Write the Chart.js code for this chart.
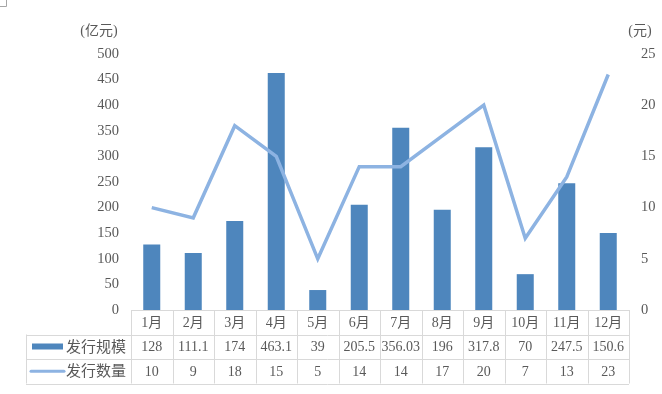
<!DOCTYPE html>
<html>
<head>
<meta charset="utf-8">
<script src="https://cdn.jsdelivr.net/npm/chart.js@4"></script>
<style>
  html, body { margin: 0; padding: 0; background: #fff; }
  #wrap { width: 662px; height: 394px; position: relative; }
</style>
</head>
<body>
<div id="wrap"><canvas id="myChart" width="662" height="394"></canvas></div>
<script>
// data
const months = ['1月', '2月', '3月', '4月', '5月', '6月', '7月', '8月', '9月', '10月', '11月', '12月'];
const scaleValues = [128, 111.1, 174, 463.1, 39, 205.5, 356.03, 196, 317.8, 70, 247.5, 150.6];
const scaleLabels = ['128', '111.1', '174', '463.1', '39', '205.5', '356.03', '196', '317.8', '70', '247.5', '150.6'];
const countValues = [10, 9, 18, 15, 5, 14, 14, 17, 20, 7, 13, 23];
const seriesNames = ['发行规模', '发行数量'];
const leftUnit = '(亿元)';
const rightUnit = '(元)';

const barColor = '#4E86BD';
const lineColor = '#8DB3E2';
const textColor = '#595959';
const gridColor = '#D9D9D9';
const fontFamily = '"Liberation Serif", "Noto Sans CJK SC", serif';

// draws the data table under the plot plus the unit labels
const tablePlugin = {
  id: 'dataTable',
  afterDraw(chart) {
    const ctx = chart.ctx;
    const area = chart.chartArea;
    const x = chart.scales.x;
    const n = months.length;
    const colW = (area.right - area.left) / n;
    const rowH = 24.5;
    const y0 = area.bottom;
    const y1 = y0 + rowH;
    const y2 = y1 + rowH;
    const y3 = y2 + rowH;
    const legendLeft = 26;

    ctx.save();
    ctx.strokeStyle = gridColor;
    ctx.lineWidth = 1;
    ctx.beginPath();
    // horizontal lines
    ctx.moveTo(area.left, Math.round(y0) + 0.5); ctx.lineTo(area.right, Math.round(y0) + 0.5);
    [y1, y2, y3].forEach(y => {
      ctx.moveTo(legendLeft, Math.round(y) + 0.5); ctx.lineTo(area.right, Math.round(y) + 0.5);
    });
    // vertical lines
    for (let i = 0; i <= n; i++) {
      const xx = Math.round(area.left + i * colW) + 0.5;
      ctx.moveTo(xx, y0); ctx.lineTo(xx, y3);
    }
    ctx.moveTo(legendLeft + 0.5, y1); ctx.lineTo(legendLeft + 0.5, y3);
    ctx.stroke();

    ctx.fillStyle = textColor;
    ctx.font = '14px ' + fontFamily;
    ctx.textAlign = 'center';
    ctx.textBaseline = 'middle';
    for (let i = 0; i < n; i++) {
      const cx = x.getPixelForValue(i);
      ctx.fillText(months[i], cx, y0 + rowH / 2 + 1);
      ctx.fillText(scaleLabels[i], cx, y1 + rowH / 2 + 1);
      ctx.fillText(String(countValues[i]), cx, y2 + rowH / 2 + 1);
    }

    // legend keys
    ctx.fillStyle = barColor;
    ctx.fillRect(32, y1 + 9, 31, 6);
    ctx.strokeStyle = lineColor;
    ctx.lineWidth = 3;
    ctx.lineCap = 'round';
    ctx.beginPath();
    ctx.moveTo(31, y2 + rowH / 2); ctx.lineTo(64, y2 + rowH / 2);
    ctx.stroke();

    ctx.fillStyle = textColor;
    ctx.font = '15px ' + fontFamily;
    ctx.textAlign = 'left';
    ctx.fillText(seriesNames[0], 66, y1 + rowH / 2 + 1);
    ctx.fillText(seriesNames[1], 66, y2 + rowH / 2 + 1);

    // axis units
    ctx.font = '14px ' + fontFamily;
    ctx.textAlign = 'center';
    ctx.fillText(leftUnit, 99, 31);
    ctx.fillText(rightUnit, 640, 31);

    // little corner mark in the top left
    ctx.strokeStyle = '#A6A6A6';
    ctx.lineWidth = 1;
    ctx.lineCap = 'butt';
    ctx.beginPath();
    ctx.moveTo(0, 6.5); ctx.lineTo(6.5, 6.5); ctx.lineTo(6.5, 0);
    ctx.stroke();
    ctx.restore();
  }
};

const ctx = document.getElementById('myChart').getContext('2d');
const myChart = new Chart(ctx, {
  data: {
    labels: months,
    datasets: [{
      type: 'line',
      label: seriesNames[1],
      data: countValues,
      yAxisID: 'y2',
      borderColor: lineColor,
      backgroundColor: lineColor,
      borderWidth: 3.5,
      pointRadius: 0,
      tension: 0,
      order: 0
    }, {
      type: 'bar',
      label: seriesNames[0],
      data: scaleValues,
      yAxisID: 'y',
      backgroundColor: barColor,
      barPercentage: 0.41,
      categoryPercentage: 1,
      order: 1
    }]
  },
  options: {
    responsive: false,
    animation: false,
    layout: {
      padding: { top: 54, bottom: 84, left: 0, right: 0 }
    },
    plugins: {
      legend: { display: false },
      tooltip: { enabled: false }
    },
    scales: {
      x: {
        display: false,
        offset: true
      },
      y: {
        position: 'left',
        min: 0,
        max: 500,
        ticks: {
          stepSize: 50,
          color: textColor,
          padding: 4,
          font: { family: fontFamily, size: 14.5 }
        },
        grid: { display: false },
        border: { display: false },
        afterFit(scale) { scale.width = 131; }
      },
      y2: {
        position: 'right',
        min: 0,
        max: 25,
        ticks: {
          stepSize: 5,
          color: textColor,
          padding: 4,
          font: { family: fontFamily, size: 14.5 }
        },
        grid: { display: false },
        border: { display: false },
        afterFit(scale) { scale.width = 33; }
      }
    }
  },
  plugins: [tablePlugin]
});
</script>
</body>
</html>
